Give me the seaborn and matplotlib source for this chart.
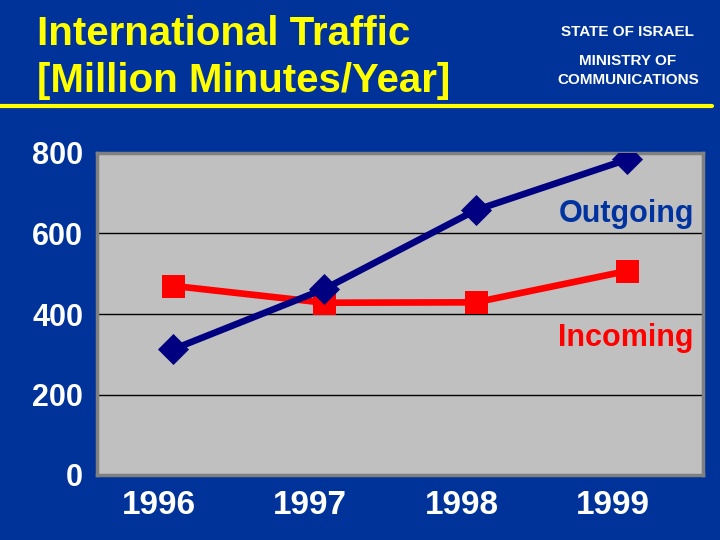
import matplotlib
matplotlib.use("Agg")
import matplotlib.pyplot as plt
import matplotlib.transforms as mtransforms
import seaborn as sns
import pandas as pd

years = ["1996", "1997", "1998", "1999"]
outgoing = [312, 462, 658, 784]
incoming = [470, 428, 429, 507]
y_ticks = [0, 200, 400, 600, 800]

BG = "#003399"
sns.set_theme(style="white")
plt.rcParams["font.family"] = ["Liberation Sans", "DejaVu Sans"]

fig = plt.figure(figsize=(7.2, 5.4), dpi=100, facecolor=BG)
ax = fig.add_axes([97 / 720, 65 / 540, 606 / 720, 322 / 540])
ax.set_facecolor("#C0C0C0")

df_in = pd.DataFrame({"year": years, "value": incoming})
df_out = pd.DataFrame({"year": years, "value": outgoing})

sns.pointplot(data=df_in, x="year", y="value", color="#FF0000", markers="s",
              markersize=13.5, linewidth=4.8, errorbar=None, ax=ax, zorder=3)
sns.pointplot(data=df_out, x="year", y="value", color="#000080", markers="D",
              markersize=12, linewidth=4.8, errorbar=None, ax=ax, zorder=4)

ax.set_xlim(-0.5, 3.5)
ax.set_ylim(0, 800)
ax.set_yticks(y_ticks)
for v in y_ticks[1:-1]:
    ax.axhline(v, color="black", lw=1.0, zorder=1)
ax.set_xlabel("")
ax.set_ylabel("")
ax.tick_params(axis="both", length=0, colors="white")
ax.tick_params(axis="x", pad=11, labelsize=24)
ax.tick_params(axis="y", pad=10, labelsize=22)
shift = mtransforms.ScaledTranslation(-14 / 100, 0, fig.dpi_scale_trans)
for lab in ax.get_xticklabels():
    lab.set_fontweight("bold")
    lab.set_transform(lab.get_transform() + shift)
for lab in ax.get_yticklabels():
    lab.set_fontweight("bold")
for s in ax.spines.values():
    s.set_color("#808080")
    s.set_linewidth(2.5)

ax.text(0.985, 0.786, "Outgoing", transform=ax.transAxes, ha="right", va="baseline",
        color="#0033A0", fontsize=22, fontweight="bold")
ax.text(0.985, 0.40, "Incoming", transform=ax.transAxes, ha="right", va="baseline",
        color="#FF0000", fontsize=22, fontweight="bold")

fig.text(37 / 720, 1 - 45 / 540, "International Traffic", color="#FFFF00",
         fontsize=29, fontweight="bold", ha="left", va="baseline")
fig.text(37 / 720, 1 - 92 / 540, "[Million Minutes/Year]", color="#FFFF00",
         fontsize=29, fontweight="bold", ha="left", va="baseline")
fig.text(627 / 720, 1 - 32 / 540, "STATE OF ISRAEL", color="white",
         fontsize=11, fontweight="bold", ha="center", va="center")
fig.text(628 / 720, 1 - 61 / 540, "MINISTRY OF", color="white",
         fontsize=11, fontweight="bold", ha="center", va="center")
fig.text(628 / 720, 1 - 80 / 540, "COMMUNICATIONS", color="white",
         fontsize=11, fontweight="bold", ha="center", va="center")
fig.add_artist(plt.Line2D([0, 712 / 720], [1 - 106 / 540, 1 - 106 / 540],
                          transform=fig.transFigure, color="#FFFF00", lw=3))

fig.savefig("out.png", dpi=100, facecolor=BG)
